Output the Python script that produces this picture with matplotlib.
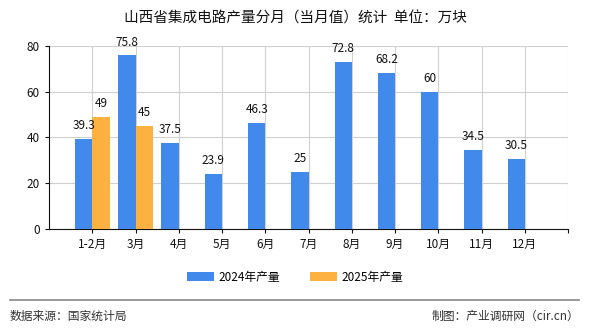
import numpy as np
import matplotlib
matplotlib.use("Agg")
import matplotlib.pyplot as plt

plt.rcParams['font.family'] = ['Noto Sans CJK SC', 'DejaVu Sans']

# data
months = ["1-2月", "3月", "4月", "5月", "6月", "7月", "8月", "9月", "10月", "11月", "12月"]
output_2024 = [39.3, 75.8, 37.5, 23.9, 46.3, 25, 72.8, 68.2, 60, 34.5, 30.5]
output_2025 = [49, 45]

blue = "#418aec"
orange = "#fcb140"

fig = plt.figure(figsize=(5.9, 3.3), dpi=100)
ax = fig.add_axes([0.083, 0.306, 0.88, 0.555])

x = np.arange(1, len(months) + 1)
w = 0.4
b1 = ax.bar(x - w / 2, output_2024, w, color=blue, label="2024年产量", zorder=3)
b2 = ax.bar(x[:len(output_2025)] + w / 2, output_2025, w, color=orange, label="2025年产量", zorder=3)

# value labels
for xi, v in zip(x - w / 2, output_2024):
    ax.text(xi, v + 3, f"{v:g}", ha="center", va="bottom", fontsize=8.5, color="#111")
for xi, v in zip(x[:len(output_2025)] + w / 2, output_2025):
    ax.text(xi, v + 3, f"{v:g}", ha="center", va="bottom", fontsize=8.5, color="#111")

ax.set_xlim(0, 12)
ax.set_ylim(0, 80)
ax.set_yticks([0, 20, 40, 60, 80])
ax.set_xticks(list(x) + [12])
ax.set_xticklabels(months + [""])
ax.tick_params(labelsize=8.5, length=3, colors="#111")
ax.grid(True, color="#d0d0d0", linewidth=0.8, zorder=0)
for s in ["top", "right"]:
    ax.spines[s].set_visible(False)
ax.spines["left"].set_color("#111")
ax.spines["bottom"].set_color("#111")

fig.text(0.5, 0.945, "山西省集成电路产量分月（当月值）统计  单位：万块",
         ha="center", va="center", fontsize=10.5, color="#111")

fig.legend(handles=[b1, b2], loc="center", bbox_to_anchor=(0.5, 0.16), ncol=2,
           frameon=False, fontsize=8.5, handlelength=2.3, handleheight=0.8,
           columnspacing=2.5, handletextpad=0.4)

fig.add_artist(plt.Line2D([0.017, 0.982], [0.09, 0.09], color="#888", linewidth=1.2,
                          transform=fig.transFigure))
fig.text(0.017, 0.042, "数据来源：国家统计局", ha="left", va="center", fontsize=8.5, color="#333")
fig.text(0.982, 0.042, "制图：产业调研网（cir.cn）", ha="right", va="center", fontsize=8.5, color="#333")

fig.savefig("out.png", dpi=100)
